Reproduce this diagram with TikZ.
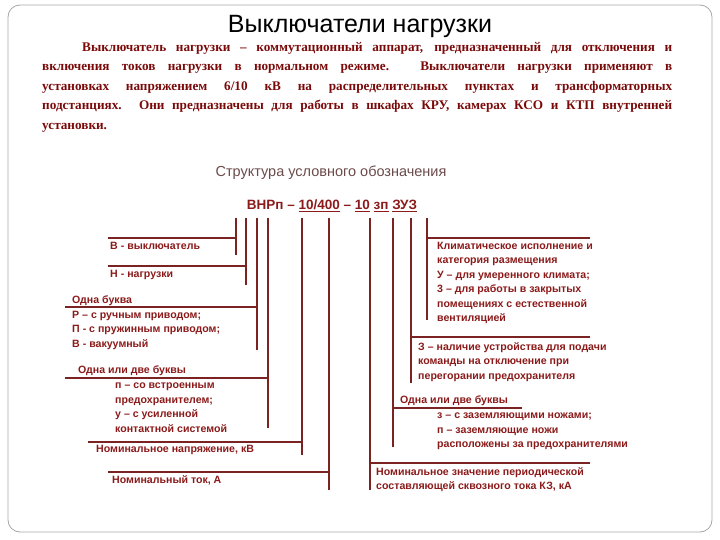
\documentclass[tikz,border=0pt]{standalone}
\usepackage{fontspec}
\setmainfont{Liberation Serif}
\setsansfont{Liberation Sans}
\definecolor{dred}{HTML}{8B1A1A}
\definecolor{pred}{HTML}{7A0A0A}
\definecolor{lbrown}{HTML}{7B2323}
\definecolor{sub}{HTML}{6B4A4A}
\begin{document}
\begin{tikzpicture}[x=1pt,y=-1pt,
  lab/.style={anchor=north west,inner sep=0,font=\sffamily\bfseries\fontsize{10.6}{14.5}\selectfont,text=dred,align=left},
  conn/.style={draw=lbrown,line width=1.4pt}]
\useasboundingbox (0,0) rectangle (720,540);
\draw[gray!70,line width=0.8pt,rounded corners=12pt] (8,5) rectangle (712,532);
\node[font=\sffamily\fontsize{25}{28}\selectfont] (title) at (360,26) {Выключатели нагрузки};
\node[anchor=north west,inner sep=0,text=pred,font=\rmfamily\bfseries\fontsize{13.2}{19.5}\selectfont] (para) at (42,42)
 {\parbox[t]{630pt}{\noindent\hspace*{40pt}Выключатель нагрузки – коммутационный аппарат, предназначенный для отключения и\linebreak
 включения токов нагрузки в нормальном режиме. Выключатели нагрузки применяют в\linebreak
 установках напряжением 6/10 кВ на распределительных пунктах и трансформаторных\linebreak
 подстанциях. Они предназначены для работы в шкафах КРУ, камерах КСО и КТП внутренней\linebreak
 установки.}};
\node[text=sub,font=\sffamily\fontsize{14.5}{16}\selectfont] (subt) at (331,173) {Структура условного обозначения};
\node[text=dred,font=\sffamily\bfseries\fontsize{13.5}{16}\selectfont,inner sep=0] (des) at (332,206)
 {ВНРп – \underline{10/400} – \underline{10} \underline{зп} \underline{ЗУЗ}};
\foreach \n/\x in {a/236,b/246,c/257,d/268,e/302,f/329,g/370,h/393,i/411,j/427}
  \coordinate (t\n) at (\x,218);
% left side
\coordinate (ab) at (236,255); \coordinate (ah) at (108,238);
\draw[conn] (ta) -- (ab); \draw[conn] (ah) -- (236,238);
\node[lab] (la) at (110,242) {В - выключатель};
\coordinate (bb) at (246,285); \coordinate (bh) at (108,266);
\draw[conn] (tb) -- (bb); \draw[conn] (bh) -- (246,266);
\node[lab] (lb) at (110,270) {Н - нагрузки};
\coordinate (cb) at (257,350); \coordinate (ch) at (65,307);
\draw[conn] (tc) -- (cb); \draw[conn] (ch) -- (257,307);
\node[lab] (lc) at (72,296) {Одна буква\\Р – с ручным приводом;\\П - с пружинным приводом;\\В - вакуумный};
\coordinate (db) at (268,428); \coordinate (dh) at (65,378);
\draw[conn] (td) -- (db); \draw[conn] (dh) -- (268,378);
\node[lab] (ld) at (78,366) {Одна или две буквы};
\node[lab] (ld2) at (115,383) {п – со встроенным\\предохранителем;\\у – с усиленной\\контактной системой};
\coordinate (eb) at (302,455); \coordinate (eh) at (88,442);
\draw[conn] (te) -- (eb); \draw[conn] (eh) -- (302,442);
\node[lab] (le) at (96,445) {Номинальное напряжение, кВ};
\coordinate (fb) at (329,490); \coordinate (fh) at (108,472);
\draw[conn] (tf) -- (fb); \draw[conn] (fh) -- (329,472);
\node[lab] (lf) at (112,475) {Номинальный ток, А};
% right side
\coordinate (gb) at (370,490); \coordinate (gh) at (590,463);
\draw[conn] (tg) -- (gb); \draw[conn] (370,463) -- (gh);
\node[lab] (lg) at (376,467) {Номинальное значение периодической\\составляющей сквозного тока КЗ, кА};
\coordinate (hb) at (393,447); \coordinate (hh) at (522,408);
\draw[conn] (th) -- (hb); \draw[conn] (393,408) -- (hh);
\node[lab] (lh) at (400,396) {Одна или две буквы};
\node[lab] (lh2) at (437,413) {з – с заземляющими ножами;\\п – заземляющие ножи\\расположены за предохранителями};
\coordinate (ib) at (411,383); \coordinate (ih) at (590,337);
\draw[conn] (ti) -- (ib); \draw[conn] (411,337) -- (ih);
\node[lab] (li) at (418,342) {З – наличие устройства для подачи\\команды на отключение при\\перегорании предохранителя};
\coordinate (jb) at (427,320); \coordinate (jh) at (590,238);
\draw[conn] (tj) -- (jb); \draw[conn] (427,238) -- (jh);
\node[lab] (lj) at (437,242) {Климатическое исполнение и\\категория размещения\\У – для умеренного климата;\\3 – для работы в закрытых\\помещениях с естественной\\вентиляцией};
\end{tikzpicture}
\end{document}
